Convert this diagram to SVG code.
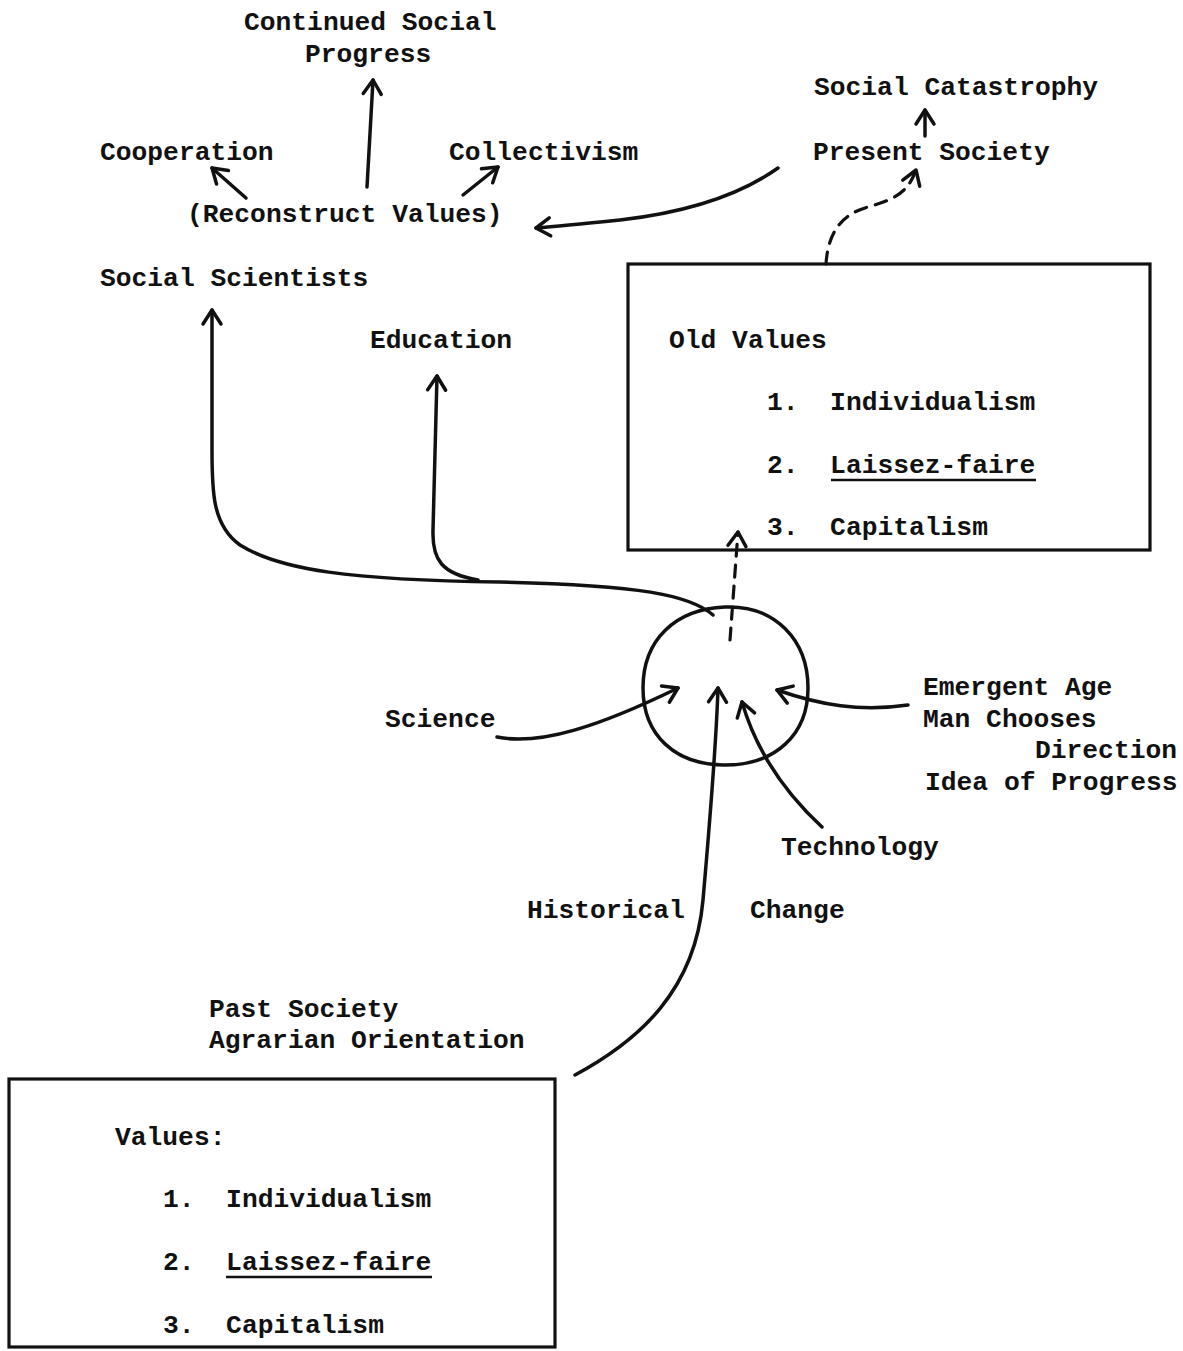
<svg xmlns="http://www.w3.org/2000/svg" width="1183" height="1351" viewBox="0 0 1183 1351">
<style>
text{font-family:"Liberation Mono","Courier New",monospace;font-size:26.3px;font-weight:bold;fill:#111;white-space:pre}
.ln{fill:none;stroke:#111;stroke-width:3.5;stroke-linecap:round;stroke-linejoin:round}
.dash{stroke-dasharray:12 9;stroke-width:3.2}
.box{fill:none;stroke:#111;stroke-width:3.2}
.ul{stroke:#111;stroke-width:2.5}
</style>
<defs>
<marker id="ah" viewBox="-20 -15 30 30" refX="0" refY="0" markerWidth="30" markerHeight="30" orient="auto" markerUnits="userSpaceOnUse">
<path d="M-14,-9 L0,0 L-14,9" fill="none" stroke="#111" stroke-width="3.5" stroke-linecap="round" stroke-linejoin="round"/>
</marker>
</defs>
<rect width="1183" height="1351" fill="#fff"/>

<g id="connectors">
<path class="ln" d="M367,187 L373,80" marker-end="url(#ah)"/>
<path class="ln" d="M246,198 L212,168" marker-end="url(#ah)"/>
<path class="ln" d="M463,195 L498,167" marker-end="url(#ah)"/>
<path class="ln" d="M778,168 C740,195 690,212 620,220 C580,224 560,226 536,228" marker-end="url(#ah)"/>
<path class="ln" d="M925,136 L925,110" marker-end="url(#ah)"/>
<path class="ln dash" d="M826,264 C828,232 842,214 868,207 C896,199 908,192 916,170" marker-end="url(#ah)"/>
<path class="ln" d="M713,615 C690,595 640,585 500,582 C350,580 280,570 240,545 C212,525 212,490 212,450 L212,310" marker-end="url(#ah)"/>
<path class="ln" d="M478,580 C442,574 432,560 433,530 L437,376" marker-end="url(#ah)"/>
<path class="ln dash" d="M730,640 L738,532" marker-end="url(#ah)"/>
<path class="ln" d="M497,737 C540,746 600,726 678,688" marker-end="url(#ah)"/>
<path class="ln" d="M575,1075 C640,1040 695,990 703,900 C710,820 716,750 718,688" marker-end="url(#ah)"/>
<path class="ln" d="M822,827 C782,790 756,750 742,702" marker-end="url(#ah)"/>
<path class="ln" d="M908,705 C860,712 820,705 777,690" marker-end="url(#ah)"/>
</g>

<g id="progress"><text x="244" y="30">Continued Social</text><text x="305" y="62">Progress</text></g>
<g id="catastrophy"><text x="814" y="95">Social Catastrophy</text></g>
<g id="cooperation"><text x="100" y="160">Cooperation</text></g>
<g id="collectivism"><text x="449" y="160">Collectivism</text></g>
<g id="present"><text x="813" y="160">Present Society</text></g>
<g id="reconstruct"><text x="187" y="222">(Reconstruct Values)</text></g>
<g id="scientists"><text x="100" y="286">Social Scientists</text></g>
<g id="education"><text x="370" y="348">Education</text></g>

<g id="oldvalues">
<rect class="box" x="628" y="264" width="522" height="286"/>
<text x="669" y="348">Old Values</text>
<text x="767" y="410" xml:space="preserve">1.  Individualism</text>
<text x="767" y="473" xml:space="preserve">2.  Laissez-faire</text>
<line class="ul" x1="831" y1="480" x2="1036" y2="480"/>
<text x="767" y="535" xml:space="preserve">3.  Capitalism</text>
</g>

<g id="circle"><path class="ln" d="M725,607 C775,605 808,640 808,688 C808,735 775,765 725,765 C675,765 643,735 643,688 C643,640 675,609 725,607 Z" stroke-width="3"/></g>

<g id="science"><text x="385" y="727">Science</text></g>
<g id="emergent">
<text x="923" y="695">Emergent Age</text>
<text x="923" y="727">Man Chooses</text>
<text x="1035" y="758">Direction</text>
<text x="925" y="790">Idea of Progress</text>
</g>
<g id="technology"><text x="781" y="855">Technology</text></g>
<g id="historical"><text x="527" y="918">Historical</text><text x="750" y="918">Change</text></g>

<g id="past">
<text x="209" y="1017">Past Society</text>
<text x="209" y="1048">Agrarian Orientation</text>
<rect class="box" x="9" y="1079" width="546" height="268"/>
<text x="115" y="1145">Values:</text>
<text x="163" y="1207" xml:space="preserve">1.  Individualism</text>
<text x="163" y="1270" xml:space="preserve">2.  Laissez-faire</text>
<line class="ul" x1="226" y1="1277" x2="432" y2="1277"/>
<text x="163" y="1333" xml:space="preserve">3.  Capitalism</text>
</g>
</svg>
